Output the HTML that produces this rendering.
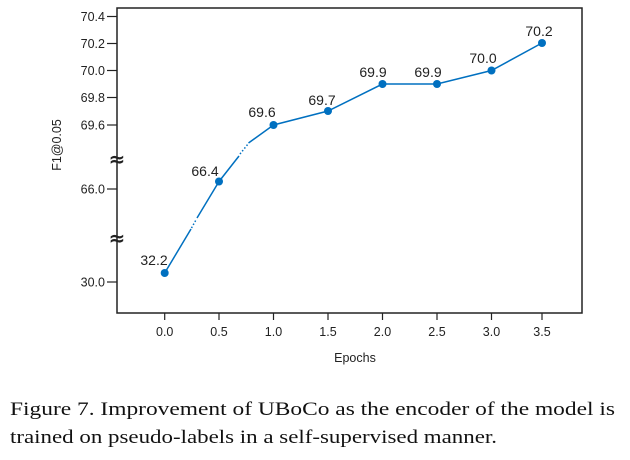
<!DOCTYPE html>
<html><head><style>body{margin:0;background:#fff}svg{display:block}</style></head><body>
<svg width="630" height="460" viewBox="0 0 630 460" xmlns="http://www.w3.org/2000/svg">
<rect x="117" y="8" width="465" height="305" fill="none" stroke="#222" stroke-width="1.5"/>
<g stroke="#222" stroke-width="1.2">
<line x1="107" y1="16.5" x2="117" y2="16.5"/><line x1="107" y1="43.5" x2="117" y2="43.5"/>
<line x1="107" y1="70.5" x2="117" y2="70.5"/><line x1="107" y1="97.5" x2="117" y2="97.5"/>
<line x1="107" y1="125" x2="117" y2="125"/><line x1="107" y1="189" x2="117" y2="189"/>
<line x1="107" y1="282" x2="117" y2="282"/>
<line x1="164.7" y1="313" x2="164.7" y2="320"/><line x1="219" y1="313" x2="219" y2="320"/>
<line x1="273.5" y1="313" x2="273.5" y2="320"/><line x1="328" y1="313" x2="328" y2="320"/>
<line x1="382.5" y1="313" x2="382.5" y2="320"/><line x1="437" y1="313" x2="437" y2="320"/>
<line x1="491.5" y1="313" x2="491.5" y2="320"/><line x1="542" y1="313" x2="542" y2="320"/>
</g>
<g font-family="Liberation Sans, sans-serif" font-size="12.5" fill="#222" text-anchor="end">
<text x="105" y="21">70.4</text><text x="105" y="48">70.2</text><text x="105" y="75">70.0</text>
<text x="105" y="102">69.8</text><text x="105" y="129.5">69.6</text><text x="105" y="193.5">66.0</text>
<text x="105" y="286.5">30.0</text>
</g>
<g font-family="Liberation Sans, sans-serif" font-size="12.5" fill="#222" text-anchor="middle">
<text x="164.7" y="336">0.0</text><text x="219" y="336">0.5</text><text x="273.5" y="336">1.0</text>
<text x="328" y="336">1.5</text><text x="382.5" y="336">2.0</text><text x="437" y="336">2.5</text>
<text x="491.5" y="336">3.0</text><text x="542" y="336">3.5</text>
<text x="355" y="362">Epochs</text>
<text transform="translate(61,145) rotate(-90)">F1@0.05</text>
</g>
<g font-family="DejaVu Sans, sans-serif" font-size="20" font-weight="bold" fill="#222" text-anchor="middle">
<text x="117" y="166">≈</text><text x="117" y="245">≈</text>
</g>
<g stroke="#0070c0" stroke-width="1.5" fill="none">
<line x1="164.7" y1="273" x2="191" y2="229"/>
<line x1="191.5" y1="228" x2="196.5" y2="219" stroke-dasharray="1.5 2"/>
<line x1="197" y1="218" x2="219" y2="181.5"/>
<line x1="219" y1="181.5" x2="239" y2="156"/>
<line x1="240" y1="154" x2="248" y2="144" stroke-dasharray="1.5 2"/>
<polyline points="248.5,143 273.5,125 328,111 382.5,84 437,84 491.5,70.5 542,43"/>
</g>
<g fill="#0070c0">
<circle cx="164.7" cy="273" r="4"/><circle cx="219" cy="181.5" r="4"/><circle cx="273.5" cy="125" r="4"/>
<circle cx="328" cy="111" r="4"/><circle cx="382.5" cy="84" r="4"/><circle cx="437" cy="84" r="4"/>
<circle cx="491.5" cy="70.5" r="4"/><circle cx="542" cy="43" r="4"/>
</g>
<g font-family="Liberation Sans, sans-serif" font-size="14" fill="#222" text-anchor="middle">
<text x="154" y="265">32.2</text><text x="205" y="176">66.4</text><text x="262" y="117">69.6</text>
<text x="322" y="105">69.7</text><text x="373" y="77">69.9</text><text x="428" y="77">69.9</text>
<text x="483" y="63">70.0</text><text x="539" y="36">70.2</text>
</g>
<g font-family="Liberation Serif, serif" font-size="19" fill="#111">
<text x="10" y="415" textLength="605" lengthAdjust="spacingAndGlyphs">Figure 7.  Improvement of UBoCo as the encoder of the model is</text>
<text x="10" y="443" textLength="487" lengthAdjust="spacingAndGlyphs">trained on pseudo-labels in a self-supervised manner.</text>
</g>
</svg>
</body></html>
